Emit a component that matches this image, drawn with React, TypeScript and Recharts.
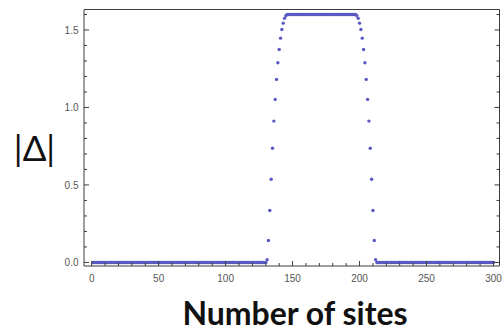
import React from 'react';
import { ScatterChart, Scatter, XAxis, YAxis } from 'recharts';

const CHART_W = 502;
const CHART_H = 332;

// Flat stretches of the profile: [first site, last site, |Δ|]
const lowLeftRun: [number, number, number] = [1, 130, 0];
const plateauRun: [number, number, number] = [146, 197, 1.6];
const lowRightRun: [number, number, number] = [213, 300, 0];

// Rising edge of the domain
const riseSites = [131, 132, 133, 134, 135, 136, 137, 138, 139, 140, 141, 142, 143, 144, 145];
const riseValues = [0.017, 0.142, 0.335, 0.537, 0.737, 0.912, 1.052, 1.181, 1.288, 1.374, 1.447, 1.503, 1.544, 1.575, 1.592];

// Falling edge of the domain
const fallSites = [198, 199, 200, 201, 202, 203, 204, 205, 206, 207, 208, 209, 210, 211, 212];
const fallValues = [1.592, 1.575, 1.544, 1.503, 1.447, 1.374, 1.288, 1.181, 1.052, 0.912, 0.737, 0.537, 0.335, 0.142, 0.017];

// Axis ticks
const xMajorTicks = [0, 50, 100, 150, 200, 250, 300];
const xMinorTicks = [10, 20, 30, 40, 60, 70, 80, 90, 110, 120, 130, 140, 160, 170, 180, 190, 210, 220, 230, 240, 260, 270, 280, 290];
const yMajorTicks = [0, 0.5, 1.0, 1.5];
const yMinorTicks = [0.1, 0.2, 0.3, 0.4, 0.6, 0.7, 0.8, 0.9, 1.1, 1.2, 1.3, 1.4, 1.6];

const xDomain: [number, number] = [-5.75, 304.5];
const yDomain: [number, number] = [-0.023, 1.632];

const FRAME = '#3c3c3c';
const DOT = '#5a5ac2';
const TICK_FONT = '"Liberation Sans", Arial, sans-serif';
const LABEL_FONT = 'Lato, "Open Sans", sans-serif';

type Pt = { site: number; delta: number };

const runPoints = ([from, to, value]: [number, number, number]): Pt[] => {
  const out: Pt[] = [];
  for (let s = from; s <= to; s++) out.push({ site: s, delta: value });
  return out;
};

const edgePoints = (sites: number[], values: number[]): Pt[] =>
  sites.map((s, i) => ({ site: s, delta: values[i] }));

const profile: Pt[] = [
  ...runPoints(lowLeftRun),
  ...edgePoints(riseSites, riseValues),
  ...runPoints(plateauRun),
  ...edgePoints(fallSites, fallValues),
  ...runPoints(lowRightRun),
].sort((a, b) => a.site - b.site);

const xTicks = [...xMajorTicks, ...xMinorTicks].sort((a, b) => a - b);
const yTicks = [...yMajorTicks, ...yMinorTicks].sort((a, b) => a - b);

const MAJOR_LEN = 5;
const MINOR_LEN = 3;

const BottomTick = (props: any) => {
  const { x, y, payload } = props;
  const v = payload.value;
  const major = xMajorTicks.includes(v);
  return (
    <g>
      <line x1={x} x2={x} y1={y} y2={y - (major ? MAJOR_LEN : MINOR_LEN)} stroke={FRAME} strokeWidth={1} />
      {major && (
        <text x={x} y={y + 15.5} textAnchor="middle" fontSize={10} fontFamily={TICK_FONT} fill="#555">
          {v}
        </text>
      )}
    </g>
  );
};

const TopTick = (props: any) => {
  const { x, y, payload } = props;
  const major = xMajorTicks.includes(payload.value);
  return <line x1={x} x2={x} y1={y} y2={y + (major ? MAJOR_LEN : MINOR_LEN)} stroke={FRAME} strokeWidth={1} />;
};

const LeftTick = (props: any) => {
  const { x, y, payload } = props;
  const v = payload.value;
  const major = yMajorTicks.includes(v);
  return (
    <g>
      <line x1={x} x2={x + (major ? MAJOR_LEN : MINOR_LEN)} y1={y} y2={y} stroke={FRAME} strokeWidth={1} />
      {major && (
        <text x={x - 5.5} y={y + 3.6} textAnchor="end" fontSize={10} fontFamily={TICK_FONT} fill="#555">
          {v.toFixed(1)}
        </text>
      )}
    </g>
  );
};

const RightTick = (props: any) => {
  const { x, y, payload } = props;
  const major = yMajorTicks.includes(payload.value);
  return <line x1={x} x2={x - (major ? MAJOR_LEN : MINOR_LEN)} y1={y} y2={y} stroke={FRAME} strokeWidth={1} />;
};

const Dot = (props: any) => <circle cx={props.cx} cy={props.cy} r={1.7} fill={DOT} />;

export default function App() {
  return (
    <div style={{ position: 'absolute', left: 0, top: 0, width: CHART_W, height: CHART_H, background: '#fff' }}>
      <ScatterChart
        width={CHART_W}
        height={CHART_H}
        margin={{ top: 8.5, right: 1.5, bottom: 65, left: 83 }}
      >
        <XAxis
          xAxisId="bottom"
          dataKey="site"
          type="number"
          domain={xDomain}
          allowDataOverflow
          ticks={xTicks}
          interval={0}
          height={1}
          tickSize={0}
          tickMargin={0}
          tickLine={false}
          axisLine={{ stroke: FRAME, strokeWidth: 1 }}
          tick={<BottomTick />}
        />
        <XAxis
          xAxisId="top"
          orientation="top"
          type="number"
          domain={xDomain}
          allowDataOverflow
          ticks={xTicks}
          interval={0}
          height={1}
          tickSize={0}
          tickMargin={0}
          tickLine={false}
          axisLine={{ stroke: FRAME, strokeWidth: 1 }}
          tick={<TopTick />}
        />
        <YAxis
          yAxisId="left"
          dataKey="delta"
          type="number"
          domain={yDomain}
          allowDataOverflow
          ticks={yTicks}
          interval={0}
          width={1}
          tickSize={0}
          tickMargin={0}
          tickLine={false}
          axisLine={{ stroke: FRAME, strokeWidth: 1 }}
          tick={<LeftTick />}
        />
        <YAxis
          yAxisId="right"
          orientation="right"
          type="number"
          domain={yDomain}
          allowDataOverflow
          ticks={yTicks}
          interval={0}
          width={1}
          tickSize={0}
          tickMargin={0}
          tickLine={false}
          axisLine={{ stroke: FRAME, strokeWidth: 1 }}
          tick={<RightTick />}
        />
        <Scatter
          xAxisId="bottom"
          yAxisId="left"
          data={profile}
          shape={<Dot />}
          isAnimationActive={false}
        />
      </ScatterChart>
      <svg
        width={CHART_W}
        height={CHART_H}
        style={{ position: 'absolute', left: 0, top: 0, pointerEvents: 'none' }}
      >
        <text x={34.5} y={161} textAnchor="middle" fontSize={35} fontFamily={LABEL_FONT} fill="#111">
          |Δ|
        </text>
        <text x={295} y={325} textAnchor="middle" fontSize={32} fontWeight={700} fontFamily={LABEL_FONT} fill="#111">
          Number of sites
        </text>
      </svg>
    </div>
  );
}
